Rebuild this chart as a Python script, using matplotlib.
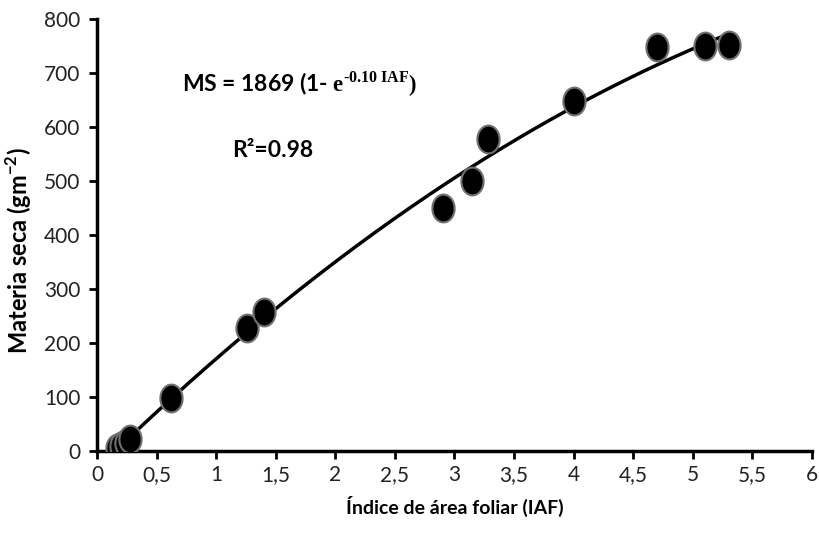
import matplotlib
matplotlib.use("Agg")
import matplotlib.pyplot as plt
import numpy as np

# leaf area index vs dry matter
iaf = [0.17, 0.20, 0.24, 0.28, 0.62, 1.26, 1.40, 2.90, 3.15, 3.28, 4.00, 4.70, 5.10, 5.30]
ms = [5, 10, 15, 22, 98, 228, 258, 450, 500, 578, 648, 748, 750, 752]

x_ticks = [0, 0.5, 1, 1.5, 2, 2.5, 3, 3.5, 4, 4.5, 5, 5.5, 6]
x_tick_labels = ["0", "0,5", "1", "1,5", "2", "2,5", "3", "3,5", "4", "4,5", "5", "5,5", "6"]
y_ticks = [0, 100, 200, 300, 400, 500, 600, 700, 800]

plt.rcParams["font.family"] = ["Lato", "DejaVu Sans"]
plt.rcParams["mathtext.fontset"] = "custom"
plt.rcParams["mathtext.rm"] = "Liberation Serif:bold"
plt.rcParams["mathtext.bf"] = "Lato:bold"

fig = plt.figure(figsize=(8.2, 5.4), dpi=100)
ax = fig.add_axes([97 / 820, (540 - 451) / 540, (812 - 97) / 820, (451 - 19) / 540])

# trend line fitted on the observations
coef = np.polyfit(iaf, ms, 2)
xs = np.linspace(0.15, 5.3, 200)
ax.plot(xs, np.polyval(coef, xs), color="black", linewidth=2.5, zorder=2)

# slightly tall ellipse marker
t = np.linspace(0, 2 * np.pi, 60)
ellipse = np.column_stack([0.8 * np.cos(t), np.sin(t)])
ax.plot(iaf, ms, linestyle="none", marker=ellipse, markersize=20,
        markerfacecolor="black", markeredgecolor="#707070", markeredgewidth=1.5, zorder=3)

ax.set_xlim(0, 6)
ax.set_ylim(0, 800)
ax.set_xticks(x_ticks)
ax.set_xticklabels(x_tick_labels)
ax.set_yticks(y_ticks)
ax.tick_params(axis="both", labelsize=15, width=2, length=6, color="black", labelcolor="#222222")
ax.tick_params(axis="x", pad=4)
ax.tick_params(axis="y", pad=6)
for side in ["top", "right"]:
    ax.spines[side].set_visible(False)
for side in ["left", "bottom"]:
    ax.spines[side].set_linewidth(2.5)

ax.set_xlabel("Índice de área foliar (IAF)", fontsize=14, fontweight="bold", labelpad=8)
ax.set_ylabel(r"Materia seca (gm$^{\mathbf{-2}}$)", fontsize=17, fontweight="bold")
ax.yaxis.set_label_coords(-0.088, 0.465)

ax.text(0.71, 665, r"MS = 1869 (1- $\mathrm{e}^{\text{-0.10 IAF}}\mathrm{)}$",
        fontsize=16.5, fontweight="bold", va="baseline")
ax.text(1.13, 544, "R²=0.98", fontsize=16.5, fontweight="bold", va="baseline")

fig.savefig("out.png", dpi=100)
